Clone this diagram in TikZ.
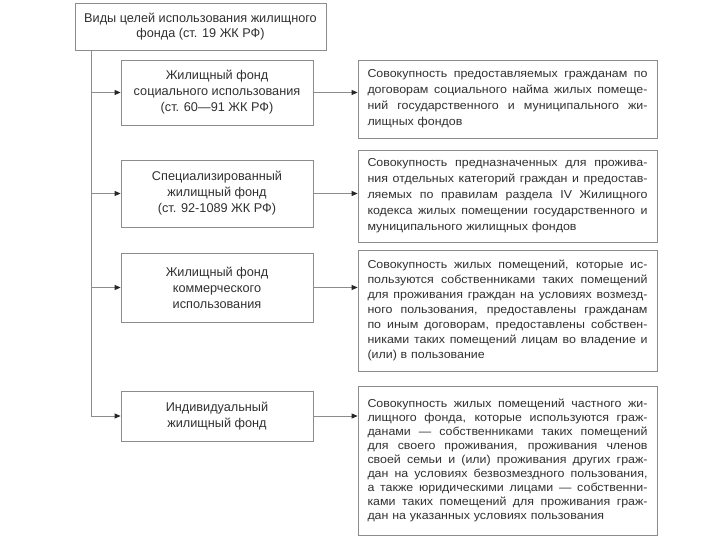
\documentclass[tikz,border=0pt]{standalone}
\usepackage{fontspec}
\setmainfont{Liberation Sans}
\newfontfamily\descfont[FakeStretch=1.08]{Liberation Sans}
\usetikzlibrary{arrows.meta,calc}
\definecolor{ln}{HTML}{8C8C8C}
\definecolor{tx}{HTML}{303030}
\newlength\jw
\setlength\jw{280pt}
\newcommand\jline[1]{{\spaceskip=0pt\xspaceskip=0pt\makebox[\jw][s]{#1}}\\}
\begin{document}
\begin{tikzpicture}[x=1pt,y=-1pt,
  box/.style={draw=ln, line width=0.8pt, text=tx, inner sep=0pt, align=center,
    font=\fontsize{12.7}{16}\selectfont},
  lbox/.style={box, minimum width=192pt},
  desc/.style={box, align=left, text width=280pt, minimum width=299pt,
    font=\descfont\fontsize{11.5}{16}\selectfont},
  conn/.style={draw=ln, line width=0.8pt, -{Triangle[length=6pt,width=5pt,color=black!85]}},
  spine/.style={draw=ln, line width=0.8pt}]
\useasboundingbox (0,0) rectangle (720,540);

\node[box, minimum width=251pt, minimum height=47pt, font=\fontsize{12.7}{15}\selectfont] (top) at (200.5,26.5)
  {Виды целей использования жилищного\\фонда (ст. 19 ЖК РФ)};

\node[lbox, minimum height=65pt] (L1) at (217,92.5)
  {Жилищный фонд\\социального использования\\(ст. 60—91 ЖК РФ)};
\node[lbox, minimum height=67pt] (L2) at (217,193.5)
  {Специализированный\\жилищный фонд\\(ст. 92-1089 ЖК РФ)};
\node[lbox, minimum height=69pt] (L3) at (217,287.5)
  {Жилищный фонд\\коммерческого\\использования};
\node[lbox, minimum height=50pt] (L4) at (217,416)
  {Индивидуальный\\жилищный фонд};

\node[desc, minimum height=78pt] (R1) at (507.5,99)
  {\jline{Совокупность предоставляемых гражданам по}%
   \jline{договорам социального найма жилых помеще-}%
   \jline{ний государственного и муниципального жи-}%
   лищных фондов};
\node[desc, minimum height=92pt] (R2) at (507.5,196)
  {\jline{Совокупность предназначенных для прожива-}%
   \jline{ния отдельных категорий граждан и предостав-}%
   \jline{ляемых по правилам раздела IV Жилищного}%
   \jline{кодекса жилых помещении государственного и}%
   муниципального жилищных фондов};
\node[desc, minimum height=121pt, font=\descfont\fontsize{11.5}{15}\selectfont] (R3) at (507.5,310.5)
  {\jline{Совокупность жилых помещений, которые ис-}%
   \jline{пользуются собственниками таких помещений}%
   \jline{для проживания граждан на условиях возмезд-}%
   \jline{ного пользования, предоставлены гражданам}%
   \jline{по иным договорам, предоставлены собствен-}%
   \jline{никами таких помещений лицам во владение и}%
   (или) в пользование};
\node[desc, minimum height=149pt, font=\descfont\fontsize{11.5}{14}\selectfont] (R4) at (507.5,460.5)
  {\jline{Совокупность жилых помещений частного жи-}%
   \jline{лищного фонда, которые используются граж-}%
   \jline{данами — собственниками таких помещений}%
   \jline{для своего проживания, проживания членов}%
   \jline{своей семьи и (или) проживания других граж-}%
   \jline{дан на условиях безвозмездного пользования,}%
   \jline{а также юридическими лицами — собственни-}%
   \jline{ками таких помещений для проживания граж-}%
   дан на указанных условиях пользования};

\coordinate (sp) at (91,0);
\draw[spine] (top.south -| sp) -- (sp |- L4.west);
\foreach \n in {1,2,3,4}{
  \draw[conn] (sp |- L\n.west) -- (L\n.west);
  \draw[conn] (L\n.east) -- (L\n.east -| R\n.west);
}
\end{tikzpicture}
\end{document}
